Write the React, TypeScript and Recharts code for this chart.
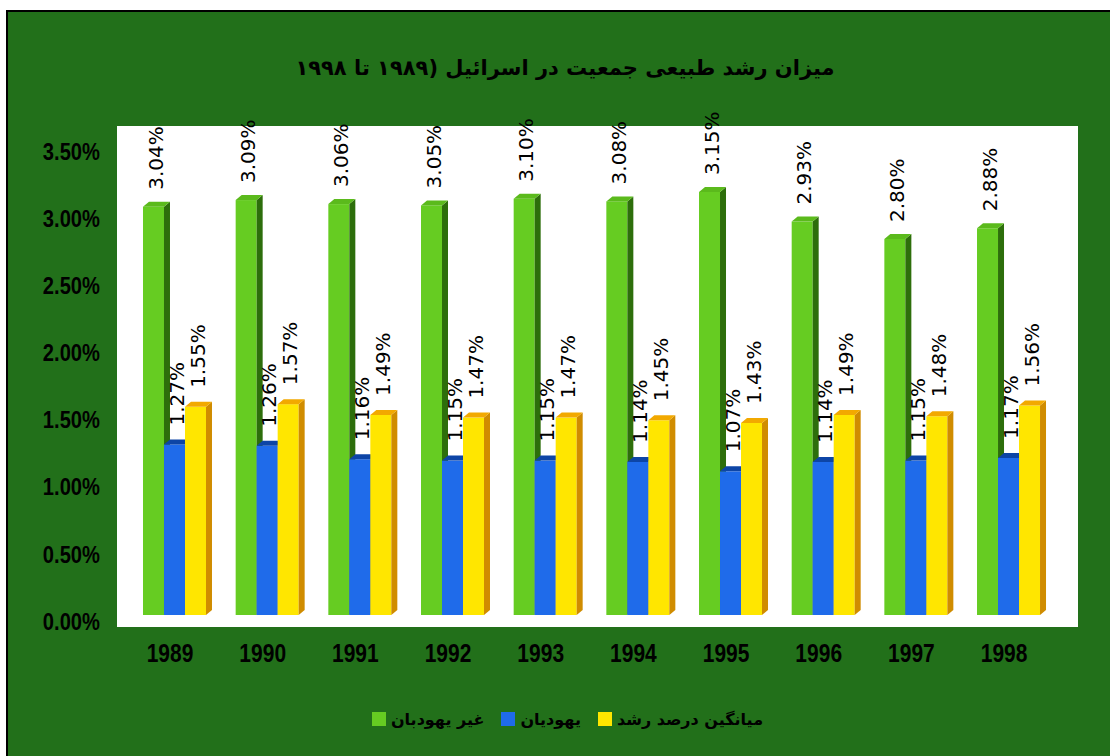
import React from 'react';
import { BarChart, Bar, XAxis, YAxis, Legend, LabelList } from 'recharts';

const years = ['1989', '1990', '1991', '1992', '1993', '1994', '1995', '1996', '1997', '1998'];
const nonJewish = [3.04, 3.09, 3.06, 3.05, 3.1, 3.08, 3.15, 2.93, 2.8, 2.88];
const jewish = [1.27, 1.26, 1.16, 1.15, 1.15, 1.14, 1.07, 1.14, 1.15, 1.17];
const average = [1.55, 1.57, 1.49, 1.47, 1.47, 1.45, 1.43, 1.49, 1.48, 1.56];
const yTicks = [0, 0.5, 1, 1.5, 2, 2.5, 3, 3.5];
const seriesNames = ['غیر یهودبان', 'یهودیان', 'میانگین درصد رشد'];
const title = 'میزان رشد طبیعی جمعیت در اسرائیل (۱۹۸۹ تا ۱۹۹۸';

const data = years.map((year, i) => ({
  year,
  nonJewish: nonJewish[i],
  jewish: jewish[i],
  average: average[i],
}));

const palette = [
  { front: '#66CC22', top: '#5BBA1C', side: '#2D6E0B' },
  { front: '#1F6BEA', top: '#0D45A6', side: '#0D45A6' },
  { front: '#FFE600', top: '#F2A900', side: '#D08C00' },
];

const DEPTH = 6;
const RISE = 5;
const AXIS_FONT = "'Liberation Sans', Arial, sans-serif";

const make3D = (c: { front: string; top: string; side: string }) => (props: any) => {
  const { x, y, width, height } = props;
  if (width == null || height == null || height <= 0) return null;
  const w = width;
  return (
    <g>
      <rect x={x} y={y} width={w} height={height} fill={c.front} />
      <polygon
        points={`${x + w},${y} ${x + w + DEPTH},${y - RISE} ${x + w + DEPTH},${y + height - RISE} ${x + w},${y + height}`}
        fill={c.side}
      />
      <polygon
        points={`${x},${y} ${x + DEPTH},${y - RISE} ${x + w + DEPTH},${y - RISE} ${x + w},${y}`}
        fill={c.top}
      />
    </g>
  );
};

const makeLabel = (offset: number) => (props: any) => {
  const { x, y, width, value } = props;
  if (value == null) return null;
  const cx = x + width / 2 + 2;
  const cy = y - offset;
  return (
    <text
      x={cx}
      y={cy}
      transform={`rotate(-90, ${cx}, ${cy})`}
      textAnchor="start"
      dy="0.36em"
      fontFamily="'DejaVu Sans', sans-serif"
      fontSize={20}
      fill="#000"
    >
      {`${Number(value).toFixed(2)}%`}
    </text>
  );
};

const YTick = (props: any) => {
  const { x, y, payload } = props;
  return (
    <g transform={`translate(${x}, ${y + 6}) scale(0.84, 1)`}>
      <text
        x={0}
        y={0}
        dy="0.36em"
        textAnchor="end"
        fontFamily={AXIS_FONT}
        fontWeight="bold"
        fontSize={24}
        fill="#000"
      >
        {`${Number(payload.value).toFixed(2)}%`}
      </text>
    </g>
  );
};

const XTick = (props: any) => {
  const { x, y, payload } = props;
  return (
    <g transform={`translate(${x - 4}, ${y}) scale(0.84, 1)`}>
      <text
        x={0}
        y={0}
        textAnchor="middle"
        fontFamily={AXIS_FONT}
        fontWeight="bold"
        fontSize={25}
        fill="#000"
      >
        {payload.value}
      </text>
    </g>
  );
};

const renderLegend = () => (
  <div
    style={{
      display: 'flex',
      justifyContent: 'center',
      alignItems: 'center',
      direction: 'ltr',
      paddingLeft: 25,
      height: 20,
      fontFamily: "'DejaVu Sans', sans-serif",
      fontWeight: 'bold',
      fontSize: 16,
      color: '#000',
    }}
  >
    {seriesNames.map((name, i) => (
      <div key={name} style={{ display: 'flex', alignItems: 'center', marginRight: i < 2 ? 17 : 0 }}>
        <span
          style={{
            display: 'inline-block',
            width: 14,
            height: 14,
            background: palette[i].front,
            marginRight: 5,
          }}
        />
        <span dir="rtl">{name}</span>
      </div>
    ))}
  </div>
);

export default function App() {
  return (
    <div
      style={{
        position: 'absolute',
        left: 0,
        top: 0,
        width: 1110,
        height: 756,
        background: '#ffffff',
        overflow: 'hidden',
      }}
    >
      <div
        style={{
          position: 'absolute',
          left: 6,
          top: 10,
          width: 1104,
          height: 746,
          background: '#22701A',
          borderLeft: '2px solid #000',
          borderTop: '2px solid #000',
          boxSizing: 'border-box',
        }}
      />
      <div
        style={{
          position: 'absolute',
          left: 117,
          top: 126,
          width: 961,
          height: 501,
          background: '#ffffff',
        }}
      />
      <div
        dir="rtl"
        style={{
          position: 'absolute',
          left: 20,
          top: 50,
          width: 1090,
          textAlign: 'center',
          fontFamily: "'DejaVu Sans', sans-serif",
          fontWeight: 'bold',
          fontSize: 21,
          color: '#000',
          lineHeight: '36px',
        }}
      >
        {title}
      </div>
      <div style={{ position: 'absolute', left: 0, top: 0 }}>
        <BarChart
          width={1110}
          height={756}
          data={data}
          margin={{ top: 145, right: 55.6, bottom: 91, left: 0 }}
          barCategoryGap="16.5%"
          barGap={0}
        >
          <XAxis
            dataKey="year"
            axisLine={false}
            tickLine={false}
            tickSize={0}
            tickMargin={47}
            height={30}
            tick={<XTick />}
            interval={0}
          />
          <YAxis
            domain={[0, 3.5]}
            ticks={yTicks}
            axisLine={false}
            tickLine={false}
            tickSize={0}
            tickMargin={27.7}
            width={127.7}
            tick={<YTick />}
            interval={0}
          />
          <Legend
            content={renderLegend}
            wrapperStyle={{ position: 'absolute', top: 709, left: 0, width: 1110 }}
          />
          <Bar dataKey="nonJewish" name={seriesNames[0]} fill={palette[0].front} shape={make3D(palette[0])} isAnimationActive={false}>
            <LabelList dataKey="nonJewish" content={makeLabel(17)} />
          </Bar>
          <Bar dataKey="jewish" name={seriesNames[1]} fill={palette[1].front} shape={make3D(palette[1])} isAnimationActive={false}>
            <LabelList dataKey="jewish" content={makeLabel(19)} />
          </Bar>
          <Bar dataKey="average" name={seriesNames[2]} fill={palette[2].front} shape={make3D(palette[2])} isAnimationActive={false}>
            <LabelList dataKey="average" content={makeLabel(19)} />
          </Bar>
        </BarChart>
      </div>
    </div>
  );
}
